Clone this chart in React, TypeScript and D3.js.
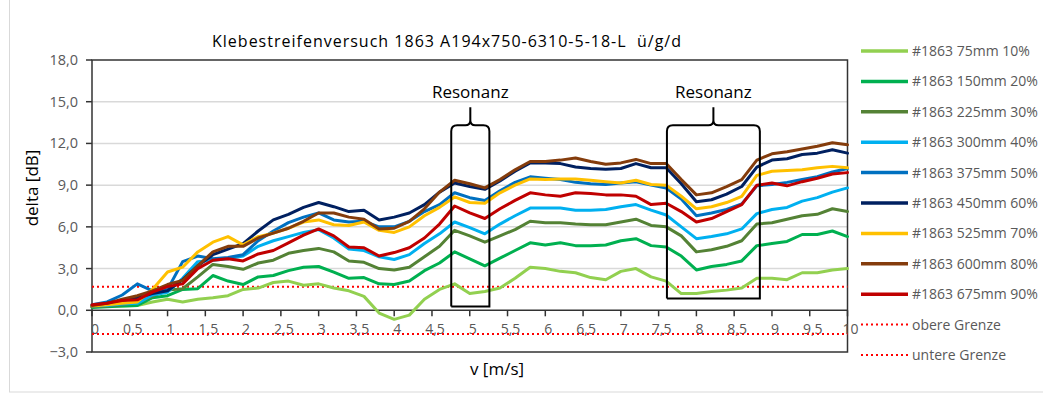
import React from 'react';
import * as d3 from 'd3';

// x values (v in m/s), 0..10 step 0.2
const V_VALUES = d3.range(51).map((i) => +(i * 0.2).toFixed(1));

const S_75 = [0.3,0.3,0.3,0.35,0.6,0.8,0.6,0.8,0.9,1.05,1.5,1.6,2.0,2.1,1.8,1.9,1.6,1.4,1.0,-0.2,-0.65,-0.35,0.8,1.5,1.9,1.2,1.35,1.6,2.3,3.1,3.0,2.8,2.7,2.35,2.2,2.8,3.0,2.4,2.1,1.2,1.2,1.35,1.45,1.6,2.3,2.3,2.2,2.7,2.7,2.9,3.0];
const S_150 = [0.2,0.25,0.3,0.35,0.9,1.05,1.5,1.55,2.5,2.1,1.85,2.4,2.5,2.85,3.1,3.15,2.75,2.3,2.35,1.9,1.85,2.1,2.85,3.4,4.2,3.7,3.2,3.75,4.3,4.85,4.7,4.85,4.65,4.65,4.7,5.0,5.15,4.65,4.55,3.9,2.9,3.15,3.3,3.55,4.65,4.8,4.95,5.45,5.45,5.7,5.3];
const S_225 = [0.25,0.3,0.4,0.55,1.0,1.45,1.55,2.4,3.3,3.15,2.95,3.4,3.6,4.1,4.3,4.45,4.2,3.55,3.45,3.0,2.9,3.1,3.85,4.6,5.75,5.35,4.9,5.35,5.8,6.4,6.3,6.3,6.2,6.15,6.15,6.35,6.55,6.1,6.0,5.35,4.2,4.35,4.6,5.0,6.2,6.3,6.55,6.8,6.9,7.3,7.1];
const S_300 = [0.3,0.35,0.45,0.5,1.1,1.3,2.3,3.5,3.6,3.7,3.9,4.6,5.0,5.3,5.6,5.8,5.2,4.4,4.3,3.85,3.65,4.0,4.8,5.5,6.35,5.95,5.5,6.2,6.8,7.35,7.35,7.35,7.2,7.2,7.25,7.45,7.6,7.2,6.85,6.0,5.15,5.3,5.5,5.85,6.95,7.25,7.4,7.85,8.1,8.5,8.8];
const S_375 = [0.4,0.6,1.1,1.9,1.4,1.5,3.5,3.9,3.7,3.8,4.0,5.0,5.7,6.3,6.7,7.0,6.5,6.35,6.4,6.0,6.0,6.4,7.1,7.6,8.45,8.1,7.9,8.6,9.2,9.6,9.5,9.4,9.2,9.1,9.05,9.15,9.25,9.0,8.8,8.0,6.8,7.0,7.25,7.65,8.95,9.05,9.2,9.4,9.6,9.95,10.2];
const S_450 = [0.3,0.5,0.7,0.9,1.2,1.4,2.2,3.2,4.0,4.4,4.8,5.7,6.5,6.9,7.4,7.75,7.45,7.1,7.2,6.5,6.7,7.0,7.6,8.5,9.15,8.9,8.7,9.3,10.0,10.6,10.6,10.55,10.3,10.2,10.15,10.2,10.55,10.25,10.25,9.1,7.8,7.95,8.35,8.9,10.3,10.8,10.9,11.2,11.3,11.55,11.3];
const S_525 = [0.3,0.4,0.5,0.6,1.5,2.75,3.1,4.2,4.9,5.3,4.7,5.3,5.55,5.9,6.35,6.5,6.15,6.1,6.35,5.75,5.6,6.0,6.8,7.4,8.15,7.75,7.7,8.45,9.0,9.45,9.4,9.45,9.45,9.35,9.25,9.15,9.35,9.05,9.0,8.2,7.3,7.45,7.75,8.2,9.7,10.0,10.05,10.1,10.25,10.35,10.25];
const S_600 = [0.35,0.5,0.8,1.05,1.4,1.85,2.15,3.2,4.2,4.6,4.6,5.2,5.55,5.9,6.4,7.0,7.0,6.7,6.55,5.85,5.9,6.4,7.3,8.5,9.35,9.1,8.8,9.4,10.1,10.7,10.7,10.8,10.95,10.7,10.5,10.6,10.85,10.55,10.55,9.4,8.3,8.45,8.9,9.4,10.8,11.25,11.4,11.6,11.8,12.05,11.9];
const S_675 = [0.4,0.5,0.7,0.75,1.3,1.7,1.9,3.0,3.6,3.7,3.55,4.05,4.3,4.85,5.4,5.85,5.35,4.55,4.5,3.9,4.15,4.5,5.2,6.2,7.5,7.0,6.6,7.3,7.9,8.45,8.3,8.2,8.45,8.4,8.3,8.3,8.2,7.6,7.7,7.1,6.35,6.6,7.1,7.6,9.0,9.15,8.95,9.25,9.5,9.8,9.9];

const SERIES_NAMES = ['#1863 75mm 10%','#1863 150mm 20%','#1863 225mm 30%','#1863 300mm 40%','#1863 375mm 50%','#1863 450mm 60%','#1863 525mm 70%','#1863 600mm 80%','#1863 675mm 90%'];
const SERIES_COLORS = ['#92D050','#00B050','#548235','#00B0F0','#0070C0','#002060','#FFC000','#843C0C','#C00000'];
const SERIES_VALUES = [S_75,S_150,S_225,S_300,S_375,S_450,S_525,S_600,S_675];

const UPPER_LIMIT = 1.7;
const LOWER_LIMIT = -1.7;
const Y_TICKS = [-3,0,3,6,9,12,15,18];
const X_TICKS = d3.range(21).map((i) => i * 0.5);

// resonance annotation ranges (data units)
const RESONANCES = [
  { x0: 4.755, x1: 5.26, y0: 0.27 },
  { x0: 7.61, x1: 8.84, y0: 0.84 },
];
const RES_TOP = 13.3;
const RES_PEAK = 14.6;

const W = 1043, H = 396;
const PL = 92, PR = 847.5, PT = 60, PB = 352;
const FONT = 'Open Sans, Noto Sans, sans-serif';

const comma = (s: string) => s.replace('.', ',');

export default function App() {
  const x = d3.scaleLinear().domain([0, 10]).range([PL, PR]);
  const y = d3.scaleLinear().domain([-3, 18]).range([PB, PT]);
  const line = d3.line<number>().x((_, i) => x(V_VALUES[i])).y((d) => y(d));
  const yFmt = d3.format('.1f');

  const legendItems = [
    ...SERIES_NAMES.map((n, i) => ({ name: n, color: SERIES_COLORS[i], dotted: false })),
    { name: 'obere Grenze', color: '#FF0000', dotted: true },
    { name: 'untere Grenze', color: '#FF0000', dotted: true },
  ];

  const bracePath = (r: { x0: number; x1: number; y0: number }) => {
    const l = x(r.x0), rr = x(r.x1), b = y(r.y0), t = y(RES_TOP), p = y(RES_PEAK);
    const c = (l + rr) / 2;
    const rad = 6;
    return `M${l},${b} L${l},${t + rad} Q${l},${t} ${l + rad},${t} L${c - 5},${t} Q${c},${t} ${c},${t - 5} L${c},${p} ` +
      `M${c},${t - 5} Q${c},${t} ${c + 5},${t} L${rr - rad},${t} Q${rr},${t} ${rr},${t + rad} L${rr},${b} L${l},${b}`;
  };

  return (
    <svg width={W} height={H} style={{ position: 'absolute', left: 0, top: 0, background: '#fff' }} fontFamily={FONT}>
      <rect x={9.5} y={-1} width={1040} height={393} fill="#fff" stroke="#d9d9d9" />
      <text x={212} y={47} fontSize={16} fill="#000" textLength={469} lengthAdjust="spacing" style={{ whiteSpace: 'pre' }}>Klebestreifenversuch 1863 A194x750-6310-5-18-L  ü/g/d</text>

      {/* gridlines */}
      {Y_TICKS.filter((t) => t > 0 && t < 18).map((t) => (
        <line key={t} x1={PL} x2={PR} y1={y(t)} y2={y(t)} stroke="#d9d9d9" strokeWidth={1.5} />
      ))}
      {/* plot border */}
      <rect x={PL} y={PT} width={PR - PL} height={PB - PT} fill="none" stroke="#333" strokeWidth={1.5} />
      {/* x axis at 0 */}
      <line x1={PL} x2={PR} y1={y(0)} y2={y(0)} stroke="#333" strokeWidth={1.5} />
      {X_TICKS.map((t) => (
        <line key={t} x1={x(t)} x2={x(t)} y1={y(0)} y2={y(0) + 6} stroke="#333" strokeWidth={1.5} />
      ))}
      {Y_TICKS.map((t) => (
        <line key={t} x1={PL - 6} x2={PL} y1={y(t)} y2={y(t)} stroke="#333" strokeWidth={1.5} />
      ))}
      {Y_TICKS.map((t) => (
        <text key={t} x={78} y={y(t) + 5} textAnchor="end" fontSize={14.5} fill="#595959">{comma(yFmt(t))}</text>
      ))}
      {X_TICKS.map((t) => (
        <text key={t} x={x(t) + 3} y={y(0) + 24} textAnchor="middle" fontSize={14} fill="#595959">{comma(String(t))}</text>
      ))}

      {/* limits */}
      <line x1={PL} x2={PR} y1={y(UPPER_LIMIT)} y2={y(UPPER_LIMIT)} stroke="#FF0000" strokeWidth={2} strokeDasharray="2 3" />
      <line x1={PL} x2={PR} y1={y(LOWER_LIMIT)} y2={y(LOWER_LIMIT)} stroke="#FF0000" strokeWidth={2} strokeDasharray="2 3" />

      {/* series */}
      {SERIES_VALUES.map((vals, i) => (
        <path key={i} d={line(vals) || ''} fill="none" stroke={SERIES_COLORS[i]} strokeWidth={3} strokeLinejoin="round" strokeLinecap="round" />
      ))}

      {/* resonance annotations */}
      {RESONANCES.map((r, i) => (
        <g key={i}>
          <path d={bracePath(r)} fill="none" stroke="#000" strokeWidth={2} />
          <text x={(x(r.x0) + x(r.x1)) / 2} y={y(RES_PEAK) - 9} textAnchor="middle" fontSize={17} fill="#000">Resonanz</text>
        </g>
      ))}

      {/* axis titles */}
      <text transform={`translate(38,${188}) rotate(-90)`} textAnchor="middle" fontSize={17} fill="#000">delta [dB]</text>
      <text x={497} y={375} textAnchor="middle" fontSize={17} fill="#000">v [m/s]</text>

      {/* legend */}
      {legendItems.map((it, i) => {
        const ly = 51 + i * 30.4;
        return (
          <g key={i}>
            <line x1={861} x2={908} y1={ly} y2={ly} stroke={it.color} strokeWidth={it.dotted ? 2 : 3.5} strokeDasharray={it.dotted ? '2 3' : undefined} />
            <text x={912} y={ly + 5} fontSize={14} fill="#595959">{it.name}</text>
          </g>
        );
      })}
    </svg>
  );
}
